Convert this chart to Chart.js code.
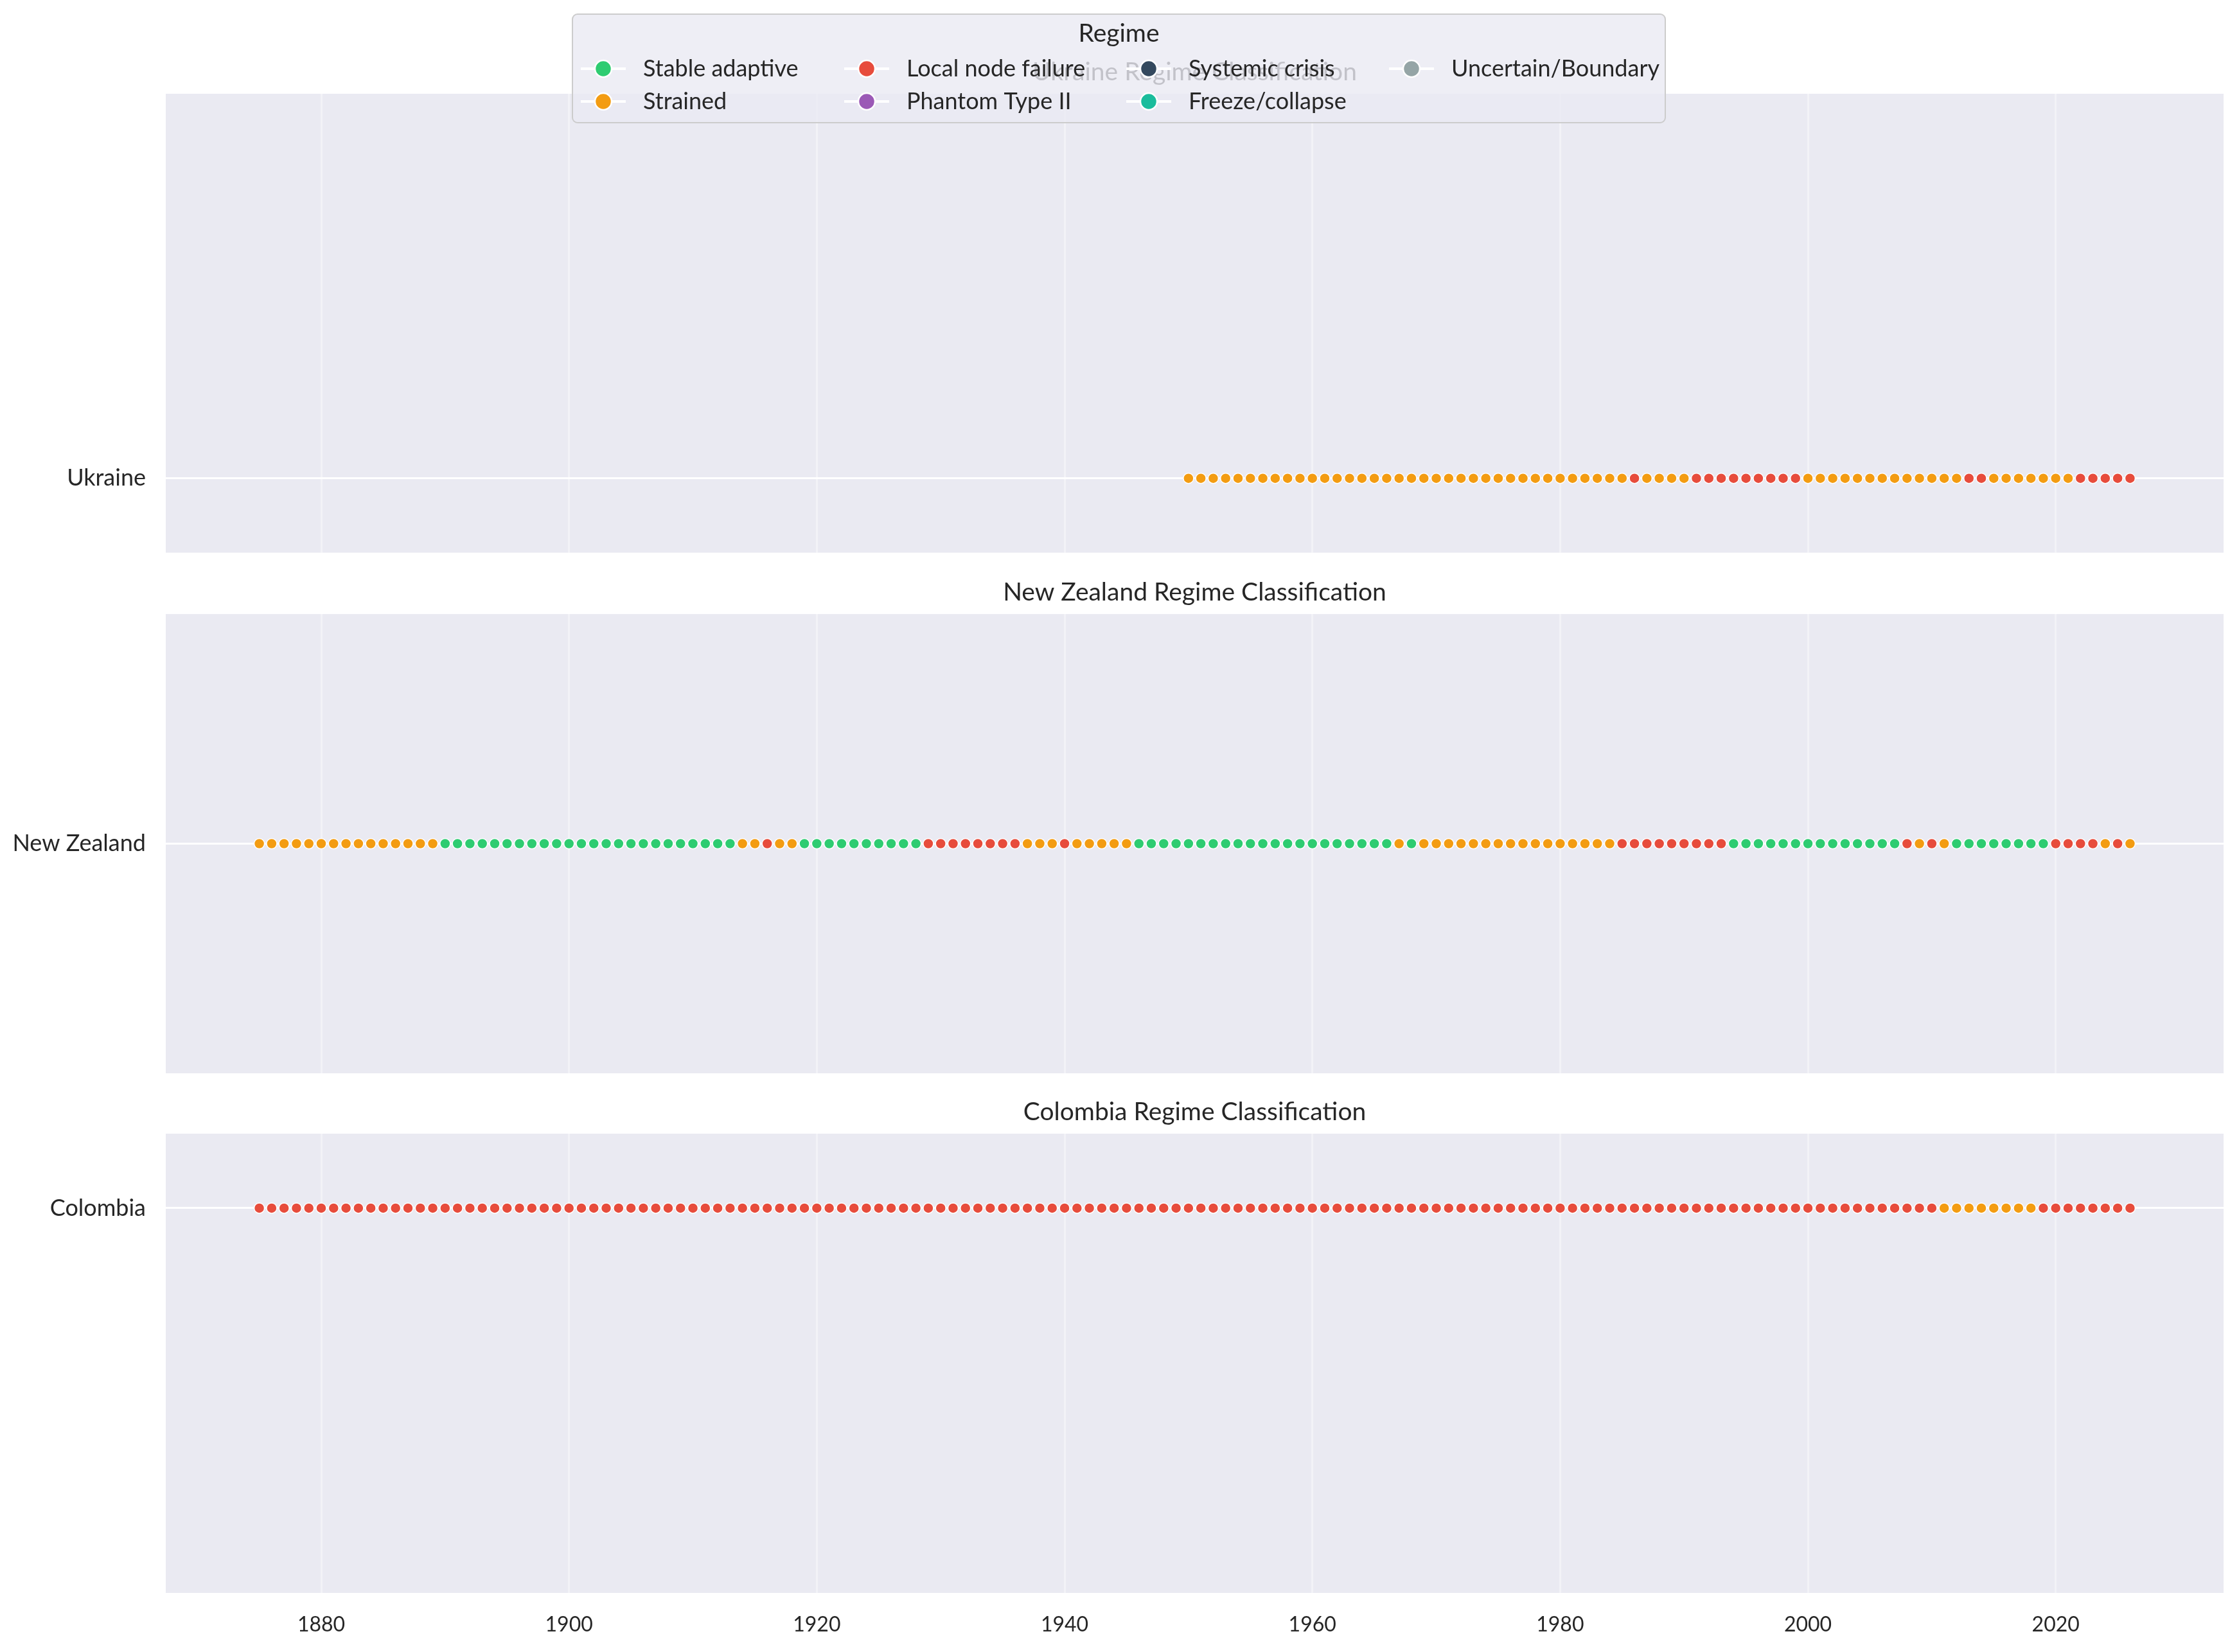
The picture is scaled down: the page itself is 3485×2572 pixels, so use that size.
<!DOCTYPE html>
<html>
<head>
<meta charset="utf-8">
<script src="https://cdn.jsdelivr.net/npm/chart.js@4.4.1/dist/chart.umd.min.js"></script>
<style>
  html, body { margin: 0; padding: 0; background: #fff; }
  body { width: 3485px; height: 2572px; position: relative; overflow: hidden; }
  canvas { position: absolute; left: 0; }
</style>
</head>
<body>
<canvas id="ukraineChart" width="3485" height="870" style="top:0"></canvas>
<canvas id="newZealandChart" width="3485" height="820" style="top:870px"></canvas>
<canvas id="colombiaChart" width="3485" height="882" style="top:1690px"></canvas>
<script>
// Regime legend (order as in the figure legend)
const regimeNames = ['Stable adaptive', 'Strained', 'Local node failure', 'Phantom Type II',
                     'Systemic crisis', 'Freeze/collapse', 'Uncertain/Boundary'];
const regimeColors = ['#2ecc71', '#f39c12', '#e74c3c', '#9b59b6', '#34495e', '#1abc9c', '#95a5a6'];
// S = Stable adaptive, T = Strained, L = Local node failure
const regimeCodes = { S: 'Stable adaptive', T: 'Strained', L: 'Local node failure' };

const years = [
    1875, 1876, 1877, 1878, 1879, 1880, 1881, 1882, 1883, 1884,
    1885, 1886, 1887, 1888, 1889, 1890, 1891, 1892, 1893, 1894,
    1895, 1896, 1897, 1898, 1899, 1900, 1901, 1902, 1903, 1904,
    1905, 1906, 1907, 1908, 1909, 1910, 1911, 1912, 1913, 1914,
    1915, 1916, 1917, 1918, 1919, 1920, 1921, 1922, 1923, 1924,
    1925, 1926, 1927, 1928, 1929, 1930, 1931, 1932, 1933, 1934,
    1935, 1936, 1937, 1938, 1939, 1940, 1941, 1942, 1943, 1944,
    1945, 1946, 1947, 1948, 1949, 1950, 1951, 1952, 1953, 1954,
    1955, 1956, 1957, 1958, 1959, 1960, 1961, 1962, 1963, 1964,
    1965, 1966, 1967, 1968, 1969, 1970, 1971, 1972, 1973, 1974,
    1975, 1976, 1977, 1978, 1979, 1980, 1981, 1982, 1983, 1984,
    1985, 1986, 1987, 1988, 1989, 1990, 1991, 1992, 1993, 1994,
    1995, 1996, 1997, 1998, 1999, 2000, 2001, 2002, 2003, 2004,
    2005, 2006, 2007, 2008, 2009, 2010, 2011, 2012, 2013, 2014,
    2015, 2016, 2017, 2018, 2019, 2020, 2021, 2022, 2023, 2024,
    2025, 2026
];

// Ukraine: 1950-2026
const ukraineRegimes = [
    'T','T','T','T','T','T','T','T','T','T',
    'T','T','T','T','T','T','T','T','T','T',
    'T','T','T','T','T','T','T','T','T','T',
    'T','T','T','T','T','T','L','T','T','T',
    'T','L','L','L','L','L','L','L','L','L',
    'T','T','T','T','T','T','T','T','T','T',
    'T','T','T','L','L','T','T','T','T','T',
    'T','T','L','L','L','L','L'
];

// New Zealand: 1875-2026
const newZealandRegimes = [
    'T','T','T','T','T','T','T','T','T','T',
    'T','T','T','T','T','S','S','S','S','S',
    'S','S','S','S','S','S','S','S','S','S',
    'S','S','S','S','S','S','S','S','S','T',
    'T','L','T','T','S','S','S','S','S','S',
    'S','S','S','S','L','L','L','L','L','L',
    'L','L','T','T','T','L','T','T','T','T',
    'T','S','S','S','S','S','S','S','S','S',
    'S','S','S','S','S','S','S','S','S','S',
    'S','S','T','S','T','T','T','T','T','T',
    'T','T','T','T','T','T','T','T','T','T',
    'L','L','L','L','L','L','L','L','L','S',
    'S','S','S','S','S','S','S','S','S','S',
    'S','S','S','L','T','L','T','S','S','S',
    'S','S','S','S','S','L','L','L','L','T',
    'L','T'
];

// Colombia: 1875-2026
const colombiaRegimes = [
    'L','L','L','L','L','L','L','L','L','L',
    'L','L','L','L','L','L','L','L','L','L',
    'L','L','L','L','L','L','L','L','L','L',
    'L','L','L','L','L','L','L','L','L','L',
    'L','L','L','L','L','L','L','L','L','L',
    'L','L','L','L','L','L','L','L','L','L',
    'L','L','L','L','L','L','L','L','L','L',
    'L','L','L','L','L','L','L','L','L','L',
    'L','L','L','L','L','L','L','L','L','L',
    'L','L','L','L','L','L','L','L','L','L',
    'L','L','L','L','L','L','L','L','L','L',
    'L','L','L','L','L','L','L','L','L','L',
    'L','L','L','L','L','L','L','L','L','L',
    'L','L','L','L','L','L','T','T','T','T',
    'T','T','T','T','L','L','L','L','L','L',
    'L','L'
];

const countries = ['Ukraine', 'New Zealand', 'Colombia'];
const xTicks = [1880, 1900, 1920, 1940, 1960, 1980, 2000, 2020];

const FONT = 'Lato, "Noto Sans", sans-serif';
const TEXT = '#262626';

function colorOf(code) {
    return regimeColors[regimeNames.indexOf(regimeCodes[code])];
}

// axes background + subplot title
const panelPlugin = {
    id: 'panel',
    beforeDraw(chart) {
        const a = chart.chartArea, ctx = chart.ctx;
        ctx.save();
        ctx.fillStyle = '#eaeaf2';
        ctx.fillRect(a.left, a.top, a.right - a.left, a.bottom - a.top);
        ctx.restore();
    },
    afterDraw(chart) {
        const a = chart.chartArea, ctx = chart.ctx;
        ctx.save();
        ctx.fillStyle = TEXT;
        ctx.font = '39px ' + FONT;
        ctx.textAlign = 'center';
        ctx.textBaseline = 'middle';
        ctx.fillText(chart.options.panelTitle, (a.left + a.right) / 2, a.top - 34);
        ctx.restore();
    }
};

// shared legend, drawn over the top panel
const legendPlugin = {
    id: 'regimeLegend',
    afterDraw(chart) {
        if (!chart.options.drawLegend) return;
        const ctx = chart.ctx;
        const x0 = 891, y0 = 22, w = 1701, h = 169;
        ctx.save();
        ctx.beginPath();
        ctx.roundRect(x0, y0, w, h, 8);
        ctx.fillStyle = 'rgba(234,234,242,0.8)';
        ctx.fill();
        ctx.lineWidth = 2;
        ctx.strokeStyle = '#cccccc';
        ctx.stroke();

        ctx.fillStyle = TEXT;
        ctx.font = '39px ' + FONT;
        ctx.textAlign = 'center';
        ctx.textBaseline = 'middle';
        ctx.fillText('Regime', x0 + w / 2, 52);

        const colX = [939, 1349, 1788, 2197];
        const rowY = [107, 158];
        ctx.font = '36px ' + FONT;
        ctx.textAlign = 'left';
        regimeNames.forEach((name, i) => {
            const cx = colX[Math.floor(i / 2)], cy = rowY[i % 2];
            ctx.strokeStyle = '#ffffff';
            ctx.lineWidth = 4;
            ctx.beginPath();
            ctx.moveTo(cx - 35, cy);
            ctx.lineTo(cx + 35, cy);
            ctx.stroke();
            ctx.beginPath();
            ctx.arc(cx, cy, 13, 0, Math.PI * 2);
            ctx.fillStyle = regimeColors[i];
            ctx.fill();
            ctx.lineWidth = 2.5;
            ctx.stroke();
            ctx.fillStyle = TEXT;
            ctx.fillText(name, cx + 62, cy);
        });
        ctx.restore();
    }
};

function makePanel(canvasId, country, panelYears, regimes, padTop, padBottom, showX) {
    const yValue = countries.indexOf(country);
    return new Chart(document.getElementById(canvasId), {
        type: 'scatter',
        data: {
            datasets: [{
                data: panelYears.map((yr) => ({ x: yr, y: yValue })),
                pointBackgroundColor: regimes.map(colorOf),
                pointBorderColor: '#ffffff',
                pointBorderWidth: 1.5,
                pointRadius: 8
            }]
        },
        options: {
            responsive: false,
            animation: false,
            panelTitle: country + ' Regime Classification',
            drawLegend: canvasId === 'ukraineChart',
            layout: { padding: { top: padTop, bottom: padBottom, left: 0, right: 24 } },
            plugins: { legend: { display: false }, tooltip: { enabled: false } },
            scales: {
                x: {
                    type: 'linear',
                    min: 1867.45,
                    max: 2033.55,
                    afterBuildTicks: (scale) => { scale.ticks = xTicks.map((v) => ({ value: v })); },
                    afterFit: (scale) => {
                        scale.height = showX ? 92 : 0;
                        scale.paddingLeft = scale.paddingRight = 0;
                    },
                    ticks: {
                        display: showX,
                        padding: 30,
                        color: TEXT,
                        font: { family: FONT, size: 32 },
                        callback: (v) => String(v)
                    },
                    grid: { color: 'rgba(255,255,255,0.4)', lineWidth: 3, drawTicks: false },
                    border: { display: false }
                },
                y: {
                    type: 'linear',
                    min: -0.48,
                    max: 2.48,
                    afterBuildTicks: (scale) => { scale.ticks = [{ value: yValue }]; },
                    afterFit: (scale) => {
                        scale.width = 258;
                        scale.paddingTop = scale.paddingBottom = 0;
                    },
                    ticks: {
                        padding: 31,
                        color: TEXT,
                        font: { family: FONT, size: 36 },
                        callback: () => country
                    },
                    grid: { color: '#ffffff', lineWidth: 3, drawTicks: false },
                    border: { display: false }
                }
            }
        },
        plugins: [panelPlugin, legendPlugin]
    });
}

const ukraineYears = years.slice(years.indexOf(1950));

// chart areas: 146-862, 956-1671, 1765-2480 (page px)
makePanel('ukraineChart', 'Ukraine', ukraineYears, ukraineRegimes, 146, 8, false);
makePanel('newZealandChart', 'New Zealand', years, newZealandRegimes, 86, 19, false);
makePanel('colombiaChart', 'Colombia', years, colombiaRegimes, 75, 0, true);
</script>
</body>
</html>
